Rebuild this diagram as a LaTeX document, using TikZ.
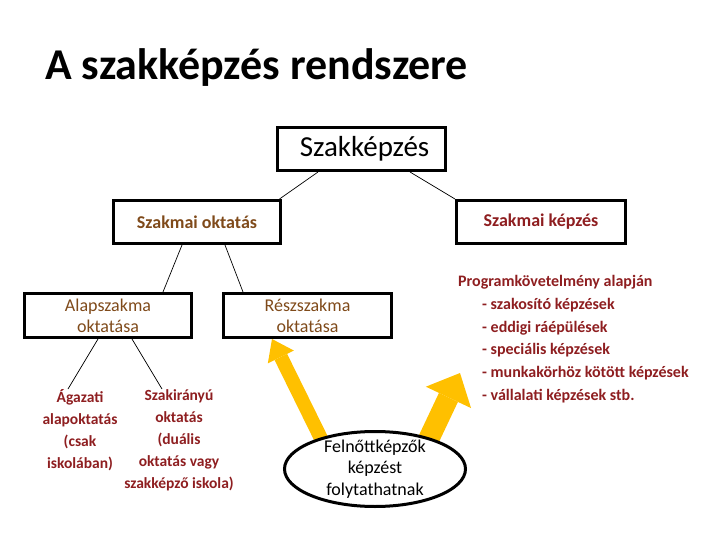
\documentclass[tikz,border=0pt]{standalone}
\usepackage{fontspec}
\setmainfont{Carlito}
\usetikzlibrary{arrows.meta,backgrounds,shapes.geometric}
\definecolor{ochre}{HTML}{7F4A1A}
\definecolor{wine}{HTML}{8E1E20}
\definecolor{amber}{HTML}{FFC000}
\tikzstyle{level}=[rectangle,draw=black,line width=3pt,inner sep=0pt]
\tikzstyle{branch}=[draw=black,line width=0.7pt]
\tikzstyle{leaf}=[align=center,inner sep=0pt,text=wine,font=\bfseries\fontsize{15.5}{22.2}\selectfont]
\tikzstyle{push}=[draw=amber,shorten <=-6pt]

\begin{document}
\begin{tikzpicture}[x=1pt,y=-1pt]
                    \useasboundingbox (0,0) rectangle (720,540);
                    \node (title) at (45,80) [anchor=base west,inner sep=0pt,font=\bfseries\fontsize{44}{52}\selectfont] {A szakképzés rendszere};

                    \node (szk) at (361.5,149) [level,minimum width=168pt,minimum height=43pt,font=\fontsize{29}{34}\selectfont] {\hspace*{6pt}Szakképzés};
                    \node (szo) at (197,222) [level,minimum width=167pt,minimum height=43pt,text=ochre,font=\bfseries\fontsize{18}{21}\selectfont] {Szakmai oktatás};
                    \node (skp) at (541,222) [level,minimum width=169pt,minimum height=43pt,text=wine,font=\bfseries\fontsize{18}{21}\selectfont] {Szakmai képzés};
                    \node (alap) at (108,315.5) [level,minimum width=167pt,minimum height=44pt,align=center,text=ochre,font=\fontsize{18}{21}\selectfont] {Alapszakma\\oktatása};
                    \node (resz) at (307.5,315.5) [level,minimum width=168pt,minimum height=44pt,align=center,text=ochre,font=\fontsize{18}{21}\selectfont] {Részszakma\\oktatása};

                    \node (ag) at (80,389) [leaf,anchor=north] {Ágazati\\alapoktatás\\(csak\\iskolában)};
                    \node (szi) at (179,389) [leaf,anchor=north] {Szakirányú\\oktatás\\(duális\\oktatás vagy\\szakképző iskola)};

                    \node (felno) at (375,469) [ellipse,draw=black,line width=3pt,fill=white,minimum width=181pt,minimum height=75pt,inner xsep=0pt,inner ysep=-5pt,align=center,font=\fontsize{18}{21.5}\selectfont] {Felnőttképzők\\képzést\\folytathatnak};

                    \node (prog) at (458,275) [anchor=north west,inner sep=0pt,align=left,text=wine,font=\bfseries\fontsize{16}{22.8}\selectfont] {Programkövetelmény alapján\\\hspace*{24pt}- szakosító képzések\\\hspace*{24pt}- eddigi ráépülések\\\hspace*{24pt}- speciális képzések\\\hspace*{24pt}- munkakörhöz kötött képzések\\\hspace*{24pt}- vállalati képzések stb.};

                    \coordinate (tipB) at (460,373);

                    \draw [branch] ([xshift=-43.5pt]szk.south) -- ([xshift=-2.5pt]szo.north east);
                    \draw [branch] ([xshift=48.5pt]szk.south) -- (skp.north west);
                    \draw [branch] ([xshift=-15pt]szo.south) -- ([xshift=55pt]alap.north);
                    \draw [branch] ([xshift=28pt]szo.south) -- ([xshift=-64.5pt]resz.north);
                    \draw [branch] ([xshift=-10pt]alap.south) -- ([xshift=-12pt]ag.north);
                    \draw [branch] ([xshift=24pt]alap.south) -- ([xshift=-17pt]szi.north);

                    \begin{pgfonlayer}{background}
                    \draw [push,line width=14pt,-{Triangle[length=20pt,width=29pt,line width=0pt]}] (felno.150) -- ([xshift=50pt]resz.south west);
                    \draw [push,line width=21pt,-{Triangle[length=27pt,width=50pt,line width=0pt]}] (felno.30) -- (tipB);
                    \end{pgfonlayer}
                \end{tikzpicture}
\end{document}
